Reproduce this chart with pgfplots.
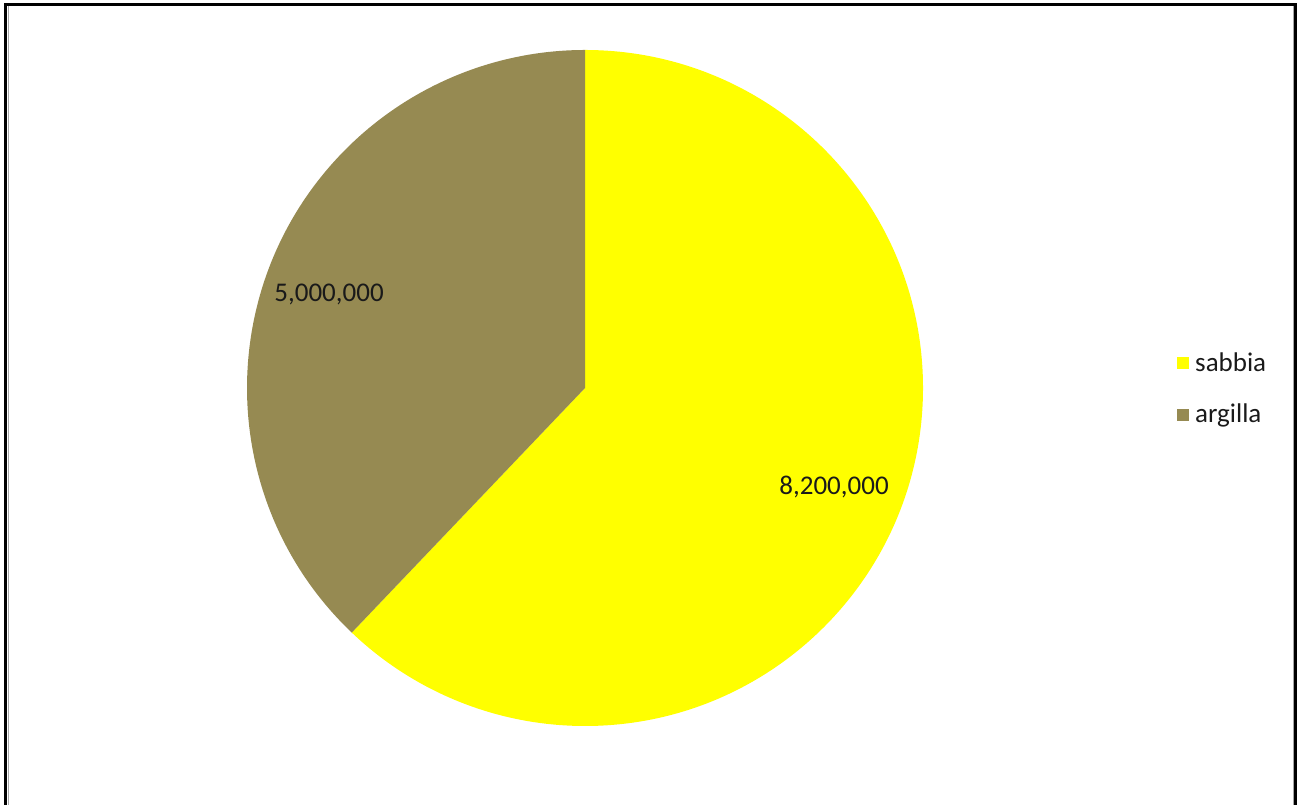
\documentclass[border=0pt]{standalone}
\usepackage{pgfplots}
\pgfplotsset{compat=1.18}
\usepackage{fontspec}
\setmainfont{Carlito}
\definecolor{sabbia}{HTML}{FFFF00}
\definecolor{argilla}{HTML}{968A52}
\definecolor{txt}{HTML}{1A1A1A}
\begin{document}
\begin{tikzpicture}
\begin{axis}[
  x=0.5pt, y=0.5pt,
  xmin=0, xmax=1299, ymin=0, ymax=805,
  hide axis, clip=false,
  legend style={draw=none, fill=none, at={(axis cs:1171,461)}, anchor=north west,
    font=\fontsize{13.5}{15}\selectfont, text=txt, row sep=11pt,
    legend cell align=left},
  legend image code/.code={\fill[#1] (0pt,-2.75pt) rectangle (5.5pt,2.75pt); \path (6.5pt,0pt);},
]
\path (axis cs:0,0) rectangle (axis cs:1299,805);
% values (millions)
\pgfmathsetmacro\va{8.2}
\pgfmathsetmacro\vb{5.0}
\pgfmathsetmacro\tot{\va+\vb}
\pgfmathsetmacro\aa{90-360*\va/\tot}
% sabbia: clockwise from 90
\fill[sabbia] (axis cs:585,417) -- (axis cs:585,755)
  arc[start angle=90, end angle=\aa, radius=338] -- cycle;
\fill[argilla] (axis cs:585,417) -- ++(\aa:169pt)
  arc[start angle=\aa, end angle=-270, radius=338] -- cycle;
\addlegendimage{sabbia}
\addlegendentry{sabbia}
\addlegendimage{argilla}
\addlegendentry{argilla}
\node[font=\fontsize{13.5}{15}\selectfont, text=txt] at (axis cs:834,318) {8,200,000};
\node[font=\fontsize{13.5}{15}\selectfont, text=txt] at (axis cs:329,511) {5,000,000};
\draw[line width=1.5pt, black] (axis cs:5.5,0) -- (axis cs:5.5,800) -- (axis cs:1295.5,800) -- (axis cs:1295.5,0);
\draw[line width=0.5pt, gray!70] (axis cs:8,0) -- (axis cs:8,798.5);
\draw[line width=0.5pt, gray!70] (axis cs:1293,0) -- (axis cs:1293,798.5);
\end{axis}
\end{tikzpicture}
\end{document}
